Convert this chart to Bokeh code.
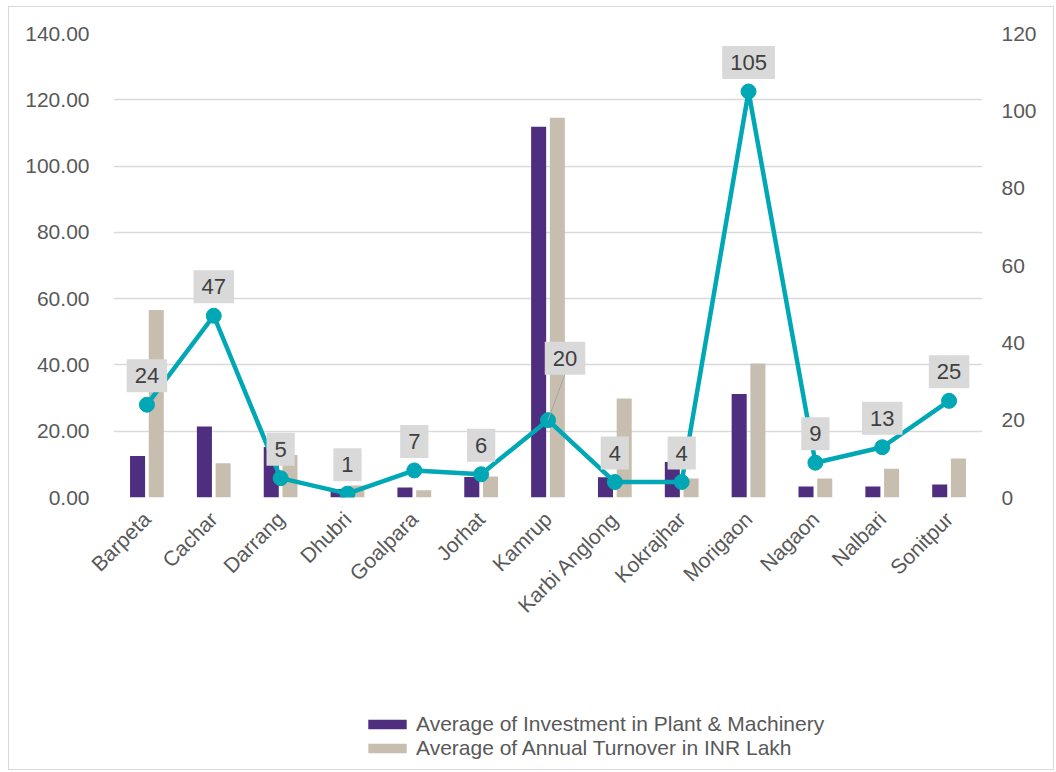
import math
from bokeh.plotting import figure
from bokeh.layouts import column
from bokeh.models import (ColumnDataSource, Range1d, LinearAxis, FixedTicker,
                          NumeralTickFormatter, Legend, LegendItem, Segment)
from bokeh.transform import dodge
from bokeh.core.properties import value
from bokeh.embed import file_html
from bokeh.resources import INLINE

# ---- data ----
districts = ["Barpeta", "Cachar", "Darrang", "Dhubri", "Goalpara", "Jorhat", "Kamrup",
             "Karbi Anglong", "Kokrajhar", "Morigaon", "Nagaon", "Nalbari", "Sonitpur"]
investment = [12.5, 21.4, 15.2, 2.6, 3.0, 6.2, 111.9, 6.1, 10.7, 31.2, 3.3, 3.3, 3.9]
turnover = [56.6, 10.3, 12.8, 3.6, 2.2, 6.3, 114.6, 29.9, 5.7, 40.4, 5.7, 8.7, 11.8]
counts = [24, 47, 5, 1, 7, 6, 20, 4, 4, 105, 9, 13, 25]
left_ticks = [0, 20, 40, 60, 80, 100, 120, 140]
right_ticks = [0, 20, 40, 60, 80, 100, 120]
series_names = ["Average of Investment in Plant & Machinery",
                "Average of Annual Turnover in INR Lakh"]

FONT = "Liberation Sans"
PURPLE = "#4F2D7F"
BEIGE = "#C8BEAF"
TEAL = "#00A7B5"
GRID = "#D9D9D9"
TXT = "#595959"

# label offsets (screen px); Kamrup label is pulled aside with a leader line
x_off = [0] * len(districts)
y_off = [-29] * len(districts)
k = districts.index("Kamrup")
x_off[k] = 17
y_off[k] = -62

src = ColumnDataSource(dict(cat=districts, inv=investment, turn=turnover, cnt=counts,
                            lbl=[str(c) for c in counts], xo=x_off, yo=y_off))

p = figure(x_range=districts, y_range=Range1d(0, 140), width=1044, height=700,
           output_backend="svg", toolbar_location=None,
           min_border_left=104, min_border_right=71, min_border_top=26, min_border_bottom=210)
p.extra_y_ranges = {"right": Range1d(0, 120)}
p.outline_line_color = None
p.background_fill_color = "white"
p.border_fill_color = "white"

r1 = p.vbar(x=dodge("cat", -0.14, range=p.x_range), top="inv", width=0.225, source=src,
            color=PURPLE, line_color=None)
r2 = p.vbar(x=dodge("cat", 0.14, range=p.x_range), top="turn", width=0.225, source=src,
            color=BEIGE, line_color=None)

p.line(x="cat", y="cnt", source=src, y_range_name="right", line_color=TEAL, line_width=4.5,
       line_join="round")
p.scatter(x="cat", y="cnt", source=src, y_range_name="right", size=15, fill_color=TEAL,
          line_color=TEAL)

# leader line for Kamrup label (from point to label box bottom)
cat_px = 869 / len(districts)
unit_px = 464 / 120
leader = ColumnDataSource(dict(x0=[k + 0.5], y0=[counts[k]],
                               x1=[k + 0.5 + x_off[k] / cat_px],
                               y1=[counts[k] + (-y_off[k] - 16) / unit_px]))
p.add_glyph(leader, Segment(x0="x0", y0="y0", x1="x1", y1="y1", line_color="#A6A6A6",
                            line_width=1), y_range_name="right")

p.text(x="cat", y="cnt", text="lbl", source=src, y_range_name="right",
       x_offset="xo", y_offset="yo", text_align="center", text_baseline="middle",
       text_font=value(FONT), text_font_size="22px", text_color="#404040",
       background_fill_color="#D9D9D9", padding=(8, 9))

# axes
p.yaxis[0].ticker = FixedTicker(ticks=left_ticks)
p.yaxis[0].formatter = NumeralTickFormatter(format="0.00")
ax_r = LinearAxis(y_range_name="right", ticker=FixedTicker(ticks=right_ticks))
p.add_layout(ax_r, "right")

for ax in [p.yaxis[0], ax_r, p.xaxis[0]]:
    ax.axis_line_color = None
    ax.major_tick_line_color = None
    ax.minor_tick_line_color = None
    ax.major_label_text_font = FONT
    ax.major_label_text_font_size = "21px"
    ax.major_label_text_color = TXT
p.yaxis[0].major_label_standoff = 18
ax_r.major_label_standoff = 13
p.xaxis[0].major_label_orientation = math.pi / 4
p.xaxis[0].major_label_standoff = 12

p.ygrid.ticker = FixedTicker(ticks=left_ticks)
p.ygrid.grid_line_color = GRID
p.ygrid.grid_line_width = 1.5
p.xgrid.grid_line_color = None

# ---- legend strip (hidden swatch renderers sit outside the visible range) ----
leg = figure(width=1044, height=62, x_range=Range1d(0, 1), y_range=Range1d(0, 1),
             output_backend="svg", toolbar_location=None, min_border=0)
leg.axis.visible = False
leg.grid.visible = False
leg.outline_line_color = None
swatch = ColumnDataSource(dict(x=[-5], top=[-5]))
l1 = leg.vbar(x="x", top="top", width=0.1, source=swatch, color=PURPLE, line_color=None)
l2 = leg.vbar(x="x", top="top", width=0.1, source=swatch, color=BEIGE, line_color=None)
legend = Legend(items=[LegendItem(label=series_names[0], renderers=[l1]),
                       LegendItem(label=series_names[1], renderers=[l2])],
                location=(250, 9), orientation="vertical",
                glyph_width=48, glyph_height=12, label_height=24, spacing=0,
                label_standoff=5, padding=0, margin=0,
                border_line_alpha=0, background_fill_alpha=0,
                label_text_font=FONT, label_text_font_size="21px", label_text_color=TXT)
leg.add_layout(legend, "center")

layout = column(p, leg, spacing=0)
layout.styles = {"border": "1px solid #D9D9D9", "margin-left": "8px", "margin-top": "6px"}

open("out.html", "w").write(file_html(layout, INLINE))
